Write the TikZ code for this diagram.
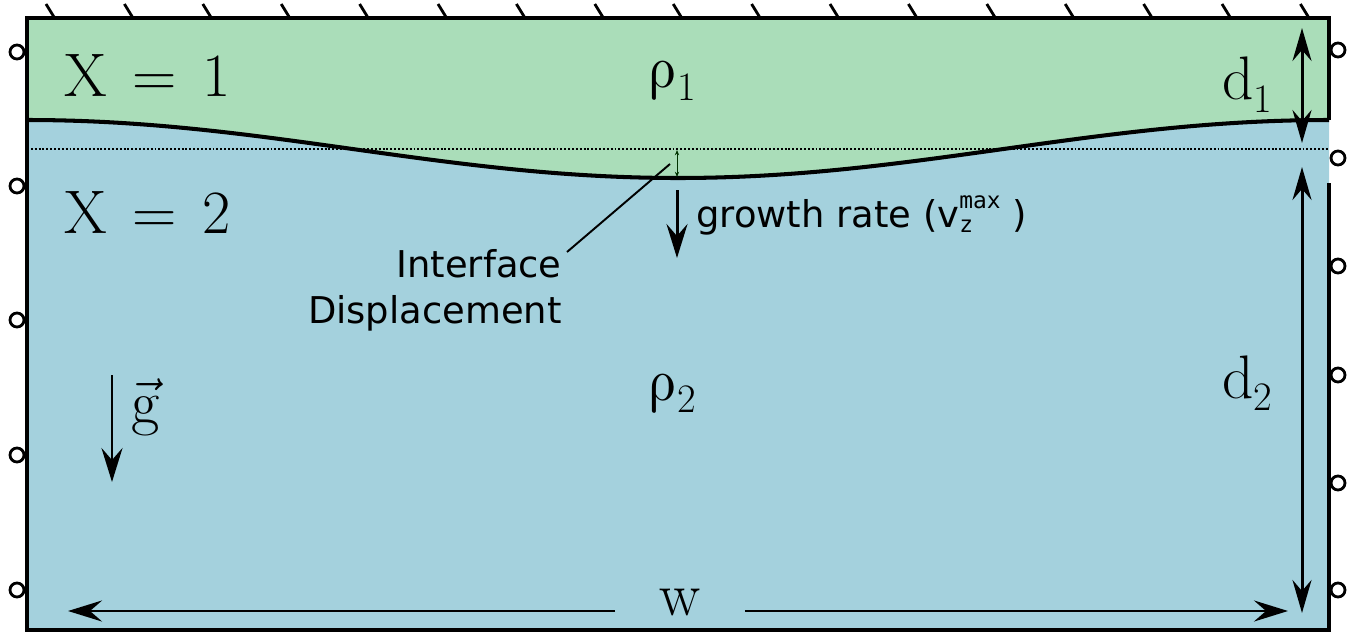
\RequirePackage{fix-cm}
\documentclass[tikz,border=0pt]{standalone}
\usepackage{fontspec}
\usepackage{tikz}
\usetikzlibrary{arrows.meta,positioning}
\newfontfamily\labelfont{DejaVu Sans}
\newfontfamily\supfont{DejaVu Sans Mono}
\newfontfamily\greekfont{latinmodern-math.otf}
\newcommand{\lowsub}[1]{\raisebox{-7pt}{\fontsize{23}{23}\selectfont #1}}
\definecolor{layerone}{RGB}{170,221,185}
\definecolor{layertwo}{RGB}{164,209,221}
\tikzset{
  wall/.style={line width=2.8pt},
  hatch/.style={line width=1.6pt},
  roller/.style={line width=1.6pt, fill=white},
  iface/.style={line width=2.3pt},
  refline/.style={line width=1.1pt, dash pattern=on 1.1pt off 1.1pt},
  arr/.style={-{Stealth[length=0.68cm, width=0.42cm, inset=0.24cm]}, line width=1.7pt},
  dbl/.style={{Stealth[length=0.66cm, width=0.38cm, inset=0.22cm]}-{Stealth[length=0.66cm, width=0.38cm, inset=0.22cm]}, line width=1.7pt},
  amp/.style={{Stealth[length=3pt, width=2.4pt]}-{Stealth[length=3pt, width=2.4pt]}, line width=0.5pt, black!80!green},
  lead/.style={line width=1.1pt},
  big/.style={font=\fontsize{35}{40}\selectfont, inner sep=0pt},
  rholab/.style={font=\fontsize{34}{38}\selectfont, inner sep=0pt},
  lbl/.style={font=\labelfont\fontsize{21}{26}\selectfont, inner sep=0pt}}

\begin{document}
\begin{tikzpicture}[x=0.02cm, y=-0.02cm]
  \useasboundingbox (0,0) rectangle (1359,635);
  % layers
  \fill[layerone] (27,18) rectangle (1329,182);
  \fill[layertwo] plot[domain=27:1329, samples=90, smooth] (\x,{149-29*cos(0.2765*(\x-27))})
    -- (1329,630) -- (27,630) -- cycle;
  \draw[refline] (27,149) -- (1329,149);
  \draw[iface] plot[domain=27:1329, samples=90, smooth] (\x,{149-29*cos(0.2765*(\x-27))});
  % walls
  \draw[wall] (1329,120) -- (1329,18) -- (27,18) -- (27,630) -- (1329,630) -- (1329,183);
  \foreach \i in {0,...,16}
    \draw[hatch] ({46+78.4*\i},4) -- ++(8,13);
  \foreach \yy in {52,186,320,455,590}
    \draw[roller] (17,\yy) circle[radius=0.14cm];
  \foreach \yy in {50,158,266,375,483,590}
    \draw[roller] (1338,\yy) circle[radius=0.14cm];

  % labels
  \node[big, anchor=base west] (xone) at (64,97) {X\hspace{0.42em}=\hspace{0.42em}1};
  \node[big, anchor=base west] (xtwo) at (64,233) {X\hspace{0.42em}=\hspace{0.42em}2};
  \node[rholab, anchor=base west] (rhoone) at (648,88) {{\greekfont ρ}\lowsub{1}};
  \node[rholab, anchor=base west] (rhotwo) at (648,400) {{\greekfont ρ}\lowsub{2}};
  \node[big, anchor=base west] (done) at (1222,100) {d\lowsub{1}};
  \node[big, anchor=base west] (dtwo) at (1222,398) {d\lowsub{2}};
  \node[big, anchor=base west] (glab) at (131,423) {$\vec{\mathrm{g}}$};
  \node[big, anchor=base, inner xsep=0.88cm] (wlab) at (680,615) {w};
  \node[lbl, anchor=base west] (rate) at (696,227)
    {growth rate (v\rlap{\raisebox{-3pt}{\supfont\fontsize{13}{13}\selectfont z}}\raisebox{10.5pt}{\supfont\fontsize{13}{13}\selectfont max}\,\,)};
  \node[lbl, align=right, anchor=north east] (disp) at (562,249) {Interface\\Displacement};

  % arrows
  \coordinate (gTop) at (112,375);
  \coordinate (gBot) at (112,482);
  \coordinate (rTop) at (677,190);
  \coordinate (rBot) at (677,258);
  \coordinate (ampTop) at (677,150);
  \coordinate (ampBot) at (677,177);
  \coordinate (leadTip) at (670,164);
  \coordinate (wL) at (68,611);
  \coordinate (wR) at (1288,611);
  \coordinate (dOneTop) at (1302,28);
  \coordinate (dOneBot) at (1302,143);
  \coordinate (dTwoTop) at (1302,167);
  \coordinate (dTwoBot) at (1302,613);
  \draw[arr] (gTop) -- (gBot);
  \draw[arr] (rTop) -- (rBot);
  \draw[amp] (ampTop) -- (ampBot);
  \draw[lead] ([shift={(5,3)}]disp.north east) -- (leadTip);
  \draw[arr] (wlab.west |- wL) -- (wL);
  \draw[arr] (wlab.east |- wR) -- (wR);
  \draw[dbl] (dOneTop) -- (dOneBot);
  \draw[dbl] (dTwoTop) -- (dTwoBot);
\end{tikzpicture}
\end{document}
